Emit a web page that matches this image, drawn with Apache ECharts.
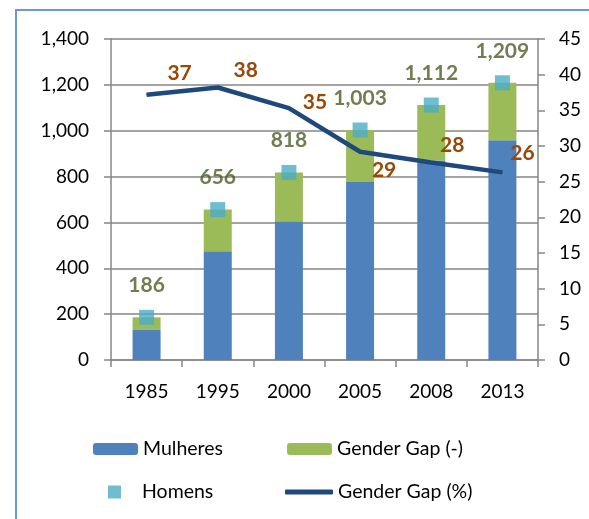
<!DOCTYPE html>
<html>
<head>
<meta charset="utf-8">
<script src="https://cdn.jsdelivr.net/npm/echarts@6/dist/echarts.min.js"></script>
<style>
  html, body { margin: 0; padding: 0; background: #fff; }
  #chart { width: 589px; height: 519px; }
</style>
</head>
<body>
<div id="chart"></div>
<script>
const years = ["1985", "1995", "2000", "2005", "2008", "2013"];
const mulheres = [131, 474, 605, 776, 870, 958];
const homens = [186, 656, 818, 1003, 1112, 1209];
const gapPct = [37.2, 38.2, 35.3, 29.2, 27.7, 26.3];
// gap bar = homens - mulheres
const gapAbs = homens.map((h, i) => h - mulheres[i]);

const font = "Lato";
const pctLabelOffsets = [[33, -21], [28, -17], [26, -6], [24, 19], [21, -17], [20, -19]];

const chart = echarts.init(document.getElementById("chart"));
const legendText = { fontFamily: font, fontSize: 19.5, color: "#000" };

chart.setOption({
    animation: false,
    textStyle: { fontFamily: font },
    graphic: [{
        type: "rect",
        shape: { x: 16, y: 10, width: 620, height: 560 },
        style: { fill: "none", stroke: "#6f97d0", lineWidth: 2 }
    }],
    grid: { left: 111, right: 51, top: 39, bottom: 159 },
    legend: [
        { data: ["Mulheres"], left: 88, top: 434, itemWidth: 45, itemHeight: 12, textStyle: legendText },
        { data: ["Gender Gap (-)"], left: 282, top: 434, itemWidth: 45, itemHeight: 12, textStyle: legendText },
        { data: ["Homens"], left: 103, top: 477, itemWidth: 13, itemHeight: 13,
          textStyle: Object.assign({ padding: [0, 0, 0, 16] }, legendText) },
        { data: [{ name: "Gender Gap (%)", icon: "roundRect" }], left: 280, top: 477,
          itemWidth: 48, itemHeight: 5, textStyle: Object.assign({ padding: [0, 0, 0, 0] }, legendText) }
    ],
    xAxis: {
        type: "category",
        data: years,
        axisLine: { lineStyle: { color: "#868686", width: 1.5 } },
        axisTick: { show: true, length: 7, lineStyle: { color: "#868686", width: 1.5 } },
        axisLabel: { fontSize: 19, color: "#000", margin: 22 }
    },
    yAxis: [{
        type: "value",
        min: 0, max: 1400, interval: 200,
        axisLine: { show: true, lineStyle: { color: "#868686", width: 1.5 } },
        axisTick: { show: true, length: 7, lineStyle: { color: "#868686", width: 1.5 } },
        splitLine: { lineStyle: { color: "#868686", width: 1.5 } },
        axisLabel: { fontSize: 19, color: "#000", margin: 22,
            formatter: v => v.toLocaleString("en-US") }
    }, {
        type: "value",
        min: 0, max: 45, interval: 5,
        axisLine: { show: true, lineStyle: { color: "#868686", width: 1.5 } },
        axisTick: { show: true, length: 7, lineStyle: { color: "#868686", width: 1.5 } },
        splitLine: { show: false },
        axisLabel: { fontSize: 19, color: "#000", margin: 21 }
    }],
    series: [
        {
            name: "Mulheres", type: "bar", stack: "t", data: mulheres,
            barWidth: 28, itemStyle: { color: "#4f81bd" }
        },
        {
            name: "Gender Gap (-)", type: "bar", stack: "t", data: gapAbs,
            barWidth: 28, itemStyle: { color: "#9bbb59" }
        },
        {
            name: "Homens", type: "scatter", data: homens,
            symbol: "rect", symbolSize: 15, itemStyle: { color: "#4bacc6" }, z: 5,
            label: {
                show: true, position: "top", distance: 14,
                fontSize: 21, fontWeight: "bold", color: "#4a5e22",
                formatter: p => p.value.toLocaleString("en-US")
            }
        },
        {
            name: "Gender Gap (%)", type: "line", yAxisIndex: 1,
            data: gapPct.map((v, i) => ({
                value: v,
                label: { offset: pctLabelOffsets[i] }
            })),
            symbol: "circle", symbolSize: 1, z: 4,
            itemStyle: { color: "#1f497d" },
            lineStyle: { color: "#1f497d", width: 4.5 },
            label: {
                show: true, position: "inside",
                fontSize: 21, fontWeight: "bold", color: "#984807",
                formatter: p => Math.round(p.value)
            }
        }
    ]
});
</script>
</body>
</html>
